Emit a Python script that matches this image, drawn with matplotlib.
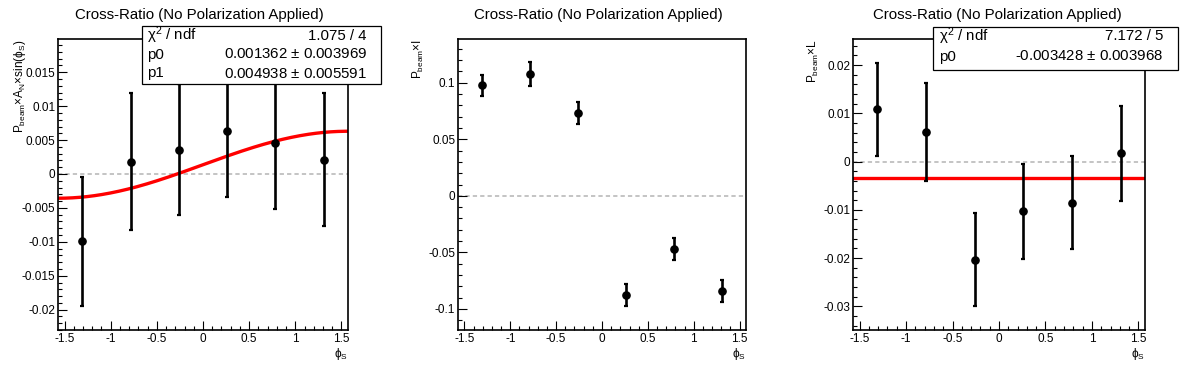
import numpy as np
import matplotlib
matplotlib.use("Agg")
import matplotlib.pyplot as plt
from matplotlib.ticker import MultipleLocator, FormatStrFormatter
from matplotlib.patches import Rectangle

plt.rcParams['font.family'] = ['Liberation Sans', 'DejaVu Sans']
plt.rcParams['mathtext.fontset'] = 'custom'
plt.rcParams['mathtext.rm'] = 'Liberation Sans'
plt.rcParams['mathtext.it'] = 'Liberation Sans:italic'
plt.rcParams['mathtext.bf'] = 'Liberation Sans:bold'
plt.rcParams['axes.unicode_minus'] = False

# ---------------- data ----------------
phi_s = [-1.309, -0.785, -0.262, 0.262, 0.785, 1.309]

an_vals = [-0.0099, 0.0018, 0.0036, 0.0064, 0.0045, 0.0021]
an_errs = [0.0095, 0.0101, 0.0096, 0.0098, 0.0096, 0.0098]

i_vals = [0.0980, 0.1080, 0.0732, -0.0879, -0.0472, -0.0843]
i_errs = [0.0093, 0.0105, 0.0099, 0.0098, 0.0097, 0.0099]

l_vals = [0.0108, 0.0061, -0.0203, -0.0103, -0.0085, 0.0017]
l_errs = [0.0096, 0.0102, 0.0097, 0.0098, 0.0097, 0.0099]

fit1_p0 = 0.001362
fit1_p1 = 0.004938
fit3_p0 = -0.003428

stats1_names = [r'χ$^{\mathrm{2}}$ / ndf', 'p0', 'p1']
stats1_vals = ['1.075 / 4', r'0.001362 $\pm$ 0.003969', r'0.004938 $\pm$ 0.005591']
stats3_names = [r'χ$^{\mathrm{2}}$ / ndf', 'p0']
stats3_vals = ['7.172 / 5', r'-0.003428 $\pm$ 0.003968']

title = 'Cross-Ratio (No Polarization Applied)'
ylabels = [r'P$_{\mathrm{beam}}$$\times$A$_{\mathrm{N}}$$\times$sin(ϕ$_{\mathrm{S}}$)',
           r'P$_{\mathrm{beam}}$$\times$I',
           r'P$_{\mathrm{beam}}$$\times$L']
xlabel = r'ϕ$_{\mathrm{S}}$'

# ---------------- layout ----------------
W, H = 1196, 372
fig = plt.figure(figsize=(W / 100, H / 100), dpi=100)


def rect(x0, y0, x1, y1):
    return [x0 / W, 1 - y1 / H, (x1 - x0) / W, (y1 - y0) / H]


def fx(x):
    return x / W


def fy(y):
    return 1 - y / H


axes_px = [(58, 39, 348, 330), (458, 39, 746, 330), (853, 39, 1145, 330)]
ylims = [(-0.0230, 0.0199), (-0.1186, 0.1387), (-0.0349, 0.0254)]
ymaj = [0.005, 0.05, 0.01]
ymin = [0.001, 0.01, 0.002]
series = [(an_vals, an_errs), (i_vals, i_errs), (l_vals, l_errs)]
ylabel_x = [28, 426, 821]
pad_centers = [199, 598, 997]

axes = []
for k in range(3):
    x0, y0, x1, y1 = axes_px[k]
    ax = fig.add_axes(rect(x0, y0, x1, y1))
    axes.append(ax)
    ax.set_xlim(-np.pi / 2, np.pi / 2)
    ax.set_ylim(*ylims[k])
    ax.axhline(0, color='#c4c4c4', lw=1.4, ls=(0, (2.2, 1.6)), zorder=1)
    vals, errs = series[k]
    ax.errorbar(phi_s, vals, yerr=errs, fmt='o', color='black', ms=5.2,
                elinewidth=1.9, capsize=1.6, capthick=1.6, zorder=3)
    ax.xaxis.set_major_locator(MultipleLocator(0.5))
    ax.xaxis.set_minor_locator(MultipleLocator(0.1))
    ax.yaxis.set_major_locator(MultipleLocator(ymaj[k]))
    ax.yaxis.set_minor_locator(MultipleLocator(ymin[k]))
    ax.xaxis.set_major_formatter(FormatStrFormatter('%g'))
    ax.yaxis.set_major_formatter(FormatStrFormatter('%g'))
    ax.tick_params(which='both', direction='in', top=False, right=False,
                   labelsize=8.5, pad=2.0, width=0.8)
    ax.tick_params(which='major', length=6.3)
    ax.tick_params(which='minor', length=3.2)
    for s in ax.spines.values():
        s.set_linewidth(1.2)
    fig.text(fx(pad_centers[k]), fy(15.5), title, ha='center', va='center', fontsize=10.8)
    fig.text(fx(ylabel_x[k]), fy(39), ylabels[k], rotation=90, ha='right', va='top', fontsize=8.5)
    fig.text(fx(x1), fy(346), xlabel, ha='right', va='top', fontsize=8.5)

# fit curves
xf = np.linspace(-np.pi / 2, np.pi / 2, 200)
axes[0].plot(xf, fit1_p0 + fit1_p1 * np.sin(xf), color='red', lw=2.4, zorder=2)
axes[2].axhline(fit3_p0, color='red', lw=2.4, zorder=2)


def stats_box(bx0, by0, bx1, by1, names, vals, rows_y, lx, rx):
    fig.add_artist(Rectangle((fx(bx0), fy(by1)), (bx1 - bx0) / W, (by1 - by0) / H,
                             transform=fig.transFigure, facecolor='white',
                             edgecolor='black', lw=0.9, zorder=5))
    for n, v, ry in zip(names, vals, rows_y):
        fig.text(fx(lx), fy(ry), n, ha='left', va='center', fontsize=10.8, zorder=6)
        fig.text(fx(rx), fy(ry), v, ha='right', va='center', fontsize=10.8, zorder=6)


stats_box(142, 26, 381, 84, stats1_names, stats1_vals, [35.5, 54.5, 73.5], 147, 367)
stats_box(933, 27, 1178, 70, stats3_names, stats3_vals, [36.5, 56.5], 939, 1163)

fig.savefig('out.png', dpi=100)
